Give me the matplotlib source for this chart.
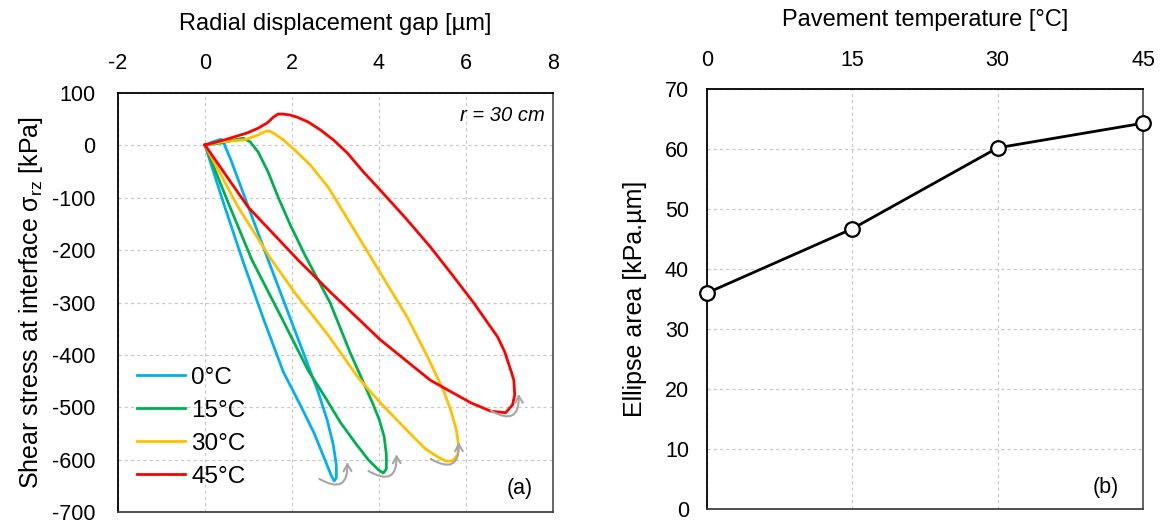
import matplotlib.pyplot as plt
import numpy as np

plt.rcParams['font.family'] = ['Liberation Sans', 'DejaVu Sans']
plt.rcParams['mathtext.fontset'] = 'custom'
plt.rcParams['mathtext.rm'] = 'Liberation Sans'
plt.rcParams['mathtext.it'] = 'Liberation Sans:italic'
plt.rcParams['axes.unicode_minus'] = False

# (a) hysteresis loops: radial displacement gap [um] vs shear stress [kPa]
gap_0c = [0, 0.44, 0.88, 1.34, 1.80, 2.19, 2.51, 2.74, 2.90, 2.97, 3.02, 3.02, 2.95, 2.81, 2.60,
          2.30, 1.96, 1.54, 1.15, 0.81, 0.58, 0.44, 0.37, 0.18, 0]
stress_0c = [0, -114, -223, -330, -432, -495, -549, -596, -629, -640, -634, -610, -571, -524, -470,
             -404, -330, -238, -152, -76, -25, 2, 11, 6, 0]

gap_15c = [0, 0.53, 1.08, 1.73, 2.37, 2.76, 3.11, 3.46, 3.76, 3.99, 4.10, 4.17, 4.17, 4.12, 4.01,
           3.85, 3.62, 3.34, 2.88, 2.30, 1.96, 1.68, 1.45, 1.22, 1.04, 0.88, 0.69, 0.39, 0]
stress_15c = [0, -109, -219, -324, -429, -480, -528, -568, -600, -619, -625, -617, -590, -556, -524,
              -491, -448, -396, -301, -210, -152, -99, -51, -13, 6, 13, 10, 4, 0]

gap_30c = [0, 0.76, 1.50, 2.07, 2.83, 3.53, 4.03, 4.79, 5.07, 5.35, 5.53, 5.69, 5.81, 5.83, 5.78,
           5.65, 5.48, 5.12, 4.65, 3.99, 3.39, 2.83, 2.42, 2.07, 1.80, 1.61, 1.47, 1.36, 1.22, 0.92,
           0.39, 0]
stress_30c = [0, -118, -215, -282, -362, -444, -491, -556, -579, -594, -602, -602, -590, -571, -543,
              -505, -467, -404, -328, -238, -156, -80, -38, -10, 10, 21, 27, 25, 19, 10,
              6, 0]

gap_45c = [0, 0.99, 2.14, 2.88, 4.03, 5.18, 6.11, 6.57, 6.91, 7.07, 7.12, 7.10, 7.03, 6.89, 6.73,
           6.18, 5.69, 5.18, 4.61, 4.03, 3.64, 3.27, 2.95, 2.65, 2.37, 2.12, 1.96, 1.80, 1.68, 1.57,
           1.43, 1.22, 0.97, 0.46, 0]
stress_45c = [0, -118, -219, -280, -371, -448, -491, -507, -510, -495, -476, -448, -429, -394, -366,
              -301, -248, -194, -139, -86, -51, -15, 10, 29, 44, 53, 57, 59, 59, 53,
              42, 32, 23, 10, 0]

loop_labels = ['0°C', '15°C', '30°C', '45°C']
loop_colors = ['#00B0F0', '#00B050', '#FFC000', '#FF0000']

# (b) ellipse area
temps = [0, 15, 30, 45]
area = [36.0, 46.7, 60.2, 64.3]

fig = plt.figure(figsize=(11.62, 5.23), dpi=100)
ax1 = fig.add_axes([0.1015, 0.0201, 0.3744, 0.803])
ax2 = fig.add_axes([0.6084, 0.0268, 0.3752, 0.803])

grid_kw = dict(color='#c8c8c8', linestyle=(0, (2.5, 2.5)), linewidth=0.9)
tick_fs = 15.5
label_fs = 17

# ---- panel (a)
loops = [(gap_0c, stress_0c), (gap_15c, stress_15c), (gap_30c, stress_30c), (gap_45c, stress_45c)]
for (gx, sy), lab, col in zip(loops, loop_labels, loop_colors):
    ax1.plot(gx, sy, color=col, lw=2.0, label=lab, solid_joinstyle='round')
    # little grey arrow round the lowest point
    i = int(np.argmin(sy))
    tx, ty = gx[i], sy[i]
    ax1.annotate('', xy=(tx + 0.3, ty + 36), xytext=(tx - 0.34, ty + 4),
                 arrowprops=dict(arrowstyle='->,head_length=0.5,head_width=0.28', color='#a6a6a6',
                                 lw=1.5, connectionstyle='arc3,rad=0.9', shrinkA=0, shrinkB=0))

ax1.set_xlim(-2, 8)
ax1.set_ylim(-700, 100)
ax1.set_xticks(np.arange(-2, 9, 2))
ax1.set_yticks(np.arange(-700, 101, 100))
ax1.xaxis.tick_top()
ax1.xaxis.set_label_position('top')
ax1.set_xlabel('Radial displacement gap [µm]', fontsize=label_fs, labelpad=17)
ax1.set_ylabel('Shear stress at interface σ$_{\\rm rz}$ [kPa]', fontsize=18, labelpad=5)
ax1.grid(True, **grid_kw)
ax1.set_axisbelow(True)
ax1.tick_params(axis='x', length=0, labelsize=tick_fs, pad=13)
ax1.tick_params(axis='y', length=0, labelsize=tick_fs, pad=16)

ax1.text(0.982, 0.946, 'r = 30 cm', transform=ax1.transAxes, ha='right', va='center',
         fontsize=14.5, style='italic')
ax1.text(0.924, 0.058, '(a)', transform=ax1.transAxes, ha='center', va='center', fontsize=tick_fs)
ax1.legend(loc='lower left', bbox_to_anchor=(0.015, 0.03), frameon=False, fontsize=17.5,
           handlelength=2.0, handletextpad=0.25, labelspacing=0.45, borderpad=0)

# ---- panel (b)
ax2.plot(temps, area, color='black', lw=2.0, marker='o', markersize=10.5,
         markerfacecolor='white', markeredgecolor='black', markeredgewidth=1.6, clip_on=False, zorder=3)
ax2.set_xlim(0, 45)
ax2.set_ylim(0, 70)
ax2.set_xticks(temps)
ax2.set_yticks(np.arange(0, 71, 10))
ax2.xaxis.tick_top()
ax2.xaxis.set_label_position('top')
ax2.set_xlabel('Pavement temperature [°C]', fontsize=label_fs, labelpad=17)
ax2.set_ylabel('Ellipse area [kPa.µm]', fontsize=18, labelpad=13)
ax2.grid(True, **grid_kw)
ax2.set_axisbelow(True)
ax2.tick_params(axis='x', length=0, labelsize=tick_fs, pad=13)
ax2.tick_params(axis='y', length=0, labelsize=tick_fs, pad=13)
ax2.text(0.915, 0.05, '(b)', transform=ax2.transAxes, ha='center', va='center', fontsize=tick_fs)

for ax in (ax1, ax2):
    ax.spines['top'].set_color('black')
    ax.spines['left'].set_color('black')
    ax.spines['right'].set_color('#595959')
    ax.spines['bottom'].set_color('#404040')
    for s in ax.spines.values():
        s.set_linewidth(1.3)

fig.savefig('out.png', dpi=100)
